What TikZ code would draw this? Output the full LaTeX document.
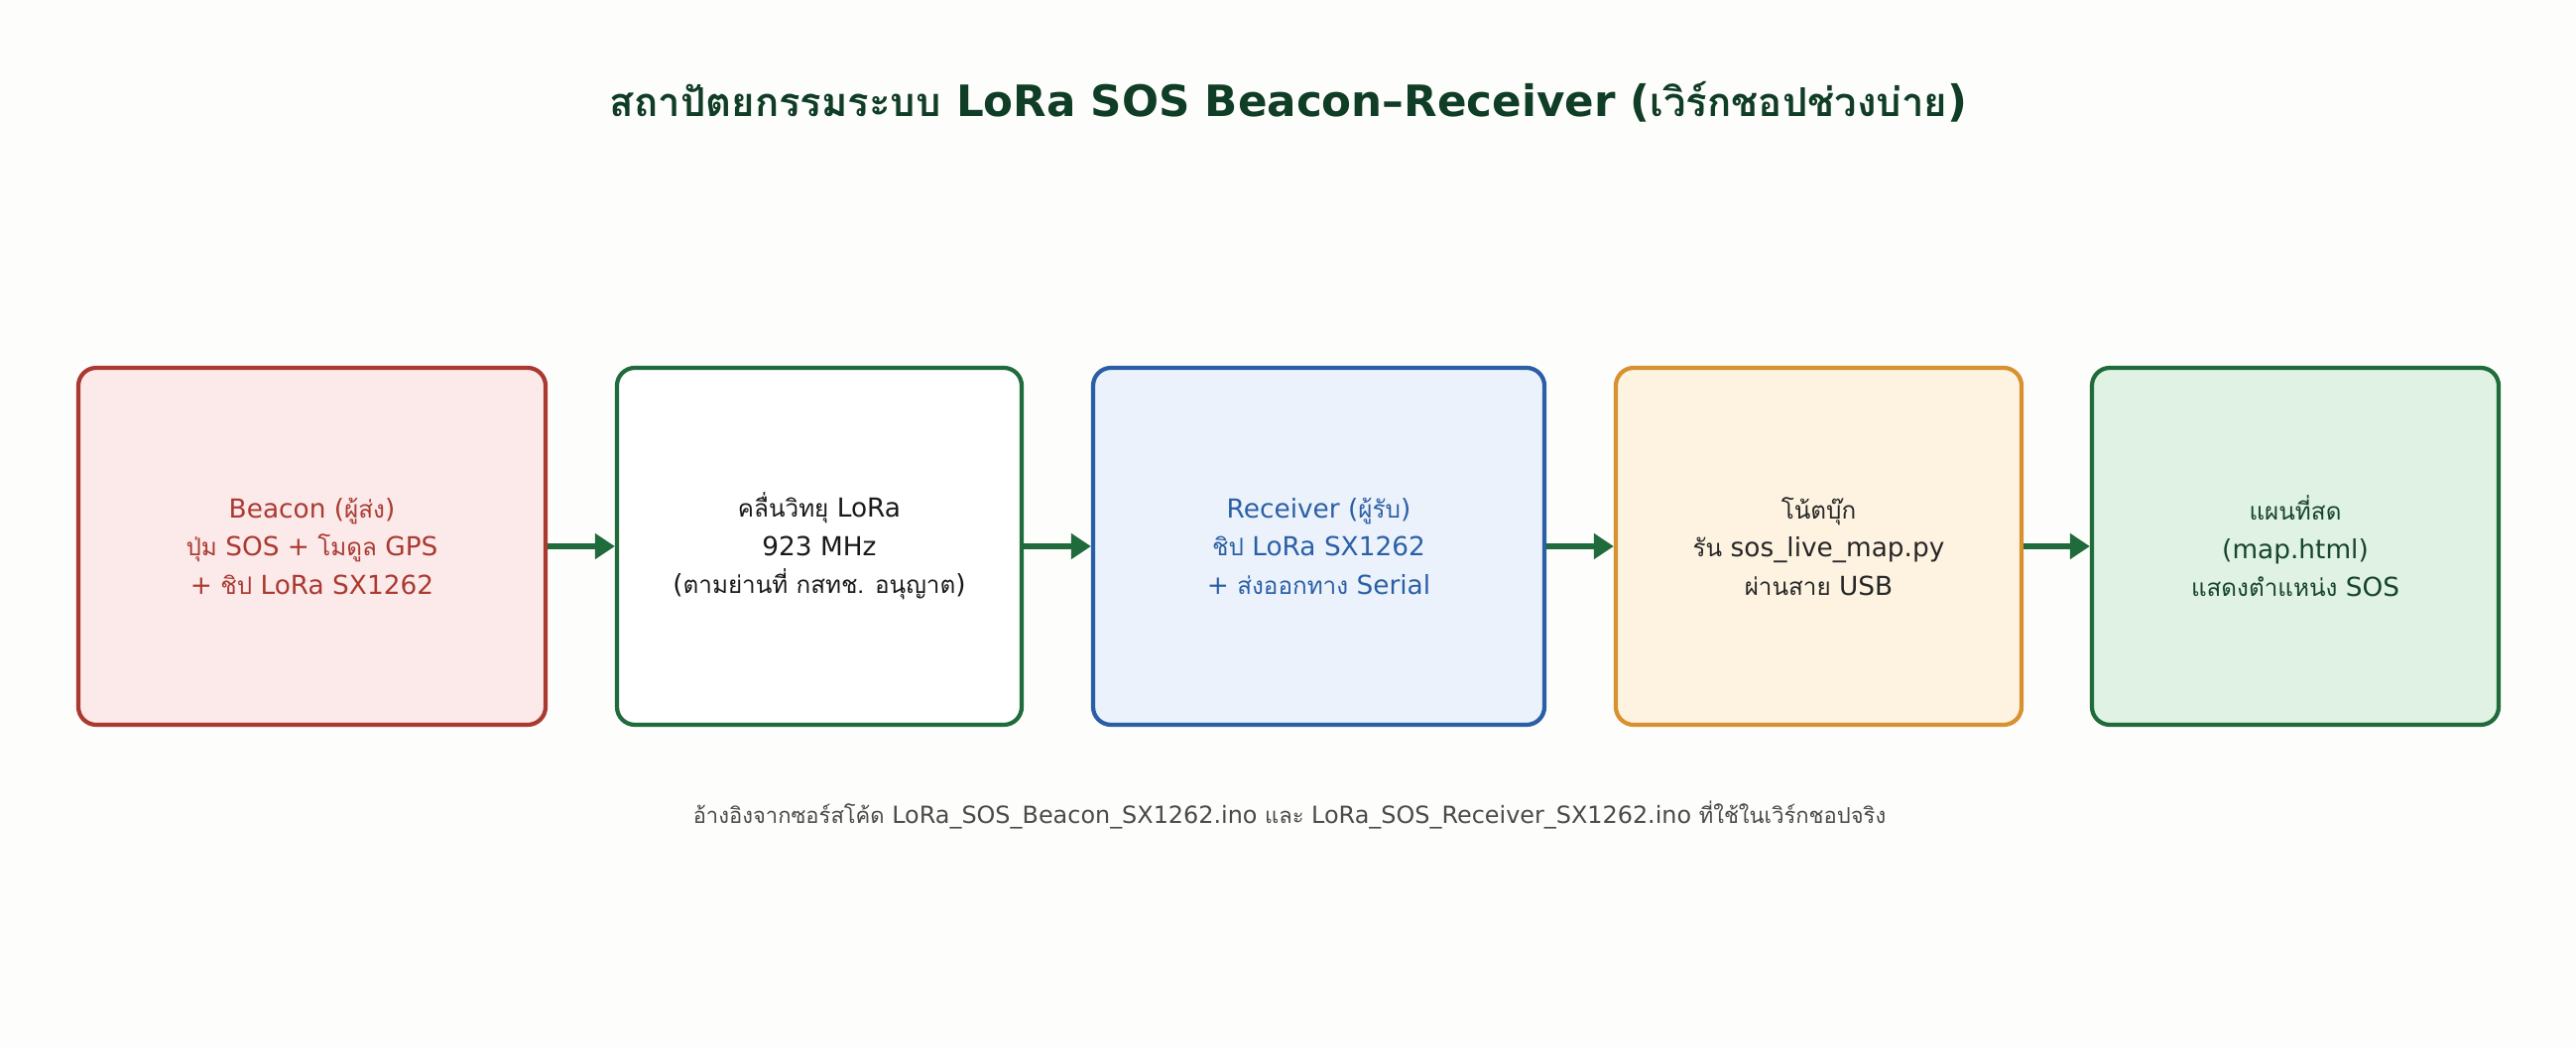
\documentclass[tikz,border=0pt]{standalone}
\usepackage{fontspec}
\usepackage{xcolor}
\setmainfont{DejaVu Sans}
\newfontfamily\thaifont[Script=Thai,Scale=0.92]{Loma}
\newcommand{\thai}[1]{{\thaifont #1}}
\usetikzlibrary{arrows.meta}
\definecolor{paper}{HTML}{FDFDFB}
\definecolor{titlegreen}{HTML}{103D26}
\definecolor{beaconred}{HTML}{AA3A31}
\definecolor{beaconfill}{HTML}{FCE9E9}
\definecolor{linkgreen}{HTML}{1F6B3B}
\definecolor{rxblue}{HTML}{2B5FA5}
\definecolor{rxfill}{HTML}{EBF2FC}
\definecolor{nborange}{HTML}{D8912F}
\definecolor{nbfill}{HTML}{FEF3E1}
\definecolor{mapfill}{HTML}{DFF2E3}
\definecolor{maptext}{HTML}{17442C}
\definecolor{notegray}{HTML}{4A4A48}

\begin{document}
\begin{tikzpicture}[
  box/.style={draw, line width=1.2pt, rounded corners=0.18cm, align=center,
    minimum height=3.6cm, font=\fontsize{7.5pt}{11pt}\selectfont},
  link/.style={-{Triangle[length=0.2cm,width=0.25cm]}, line width=1.9pt, linkgreen}
]
\useasboundingbox (0,0) rectangle (25.97,10.56);
\fill[paper] (0,0) rectangle (25.97,10.56);
\node[font=\fontsize{12.4pt}{14pt}\selectfont\bfseries, text=titlegreen] (title) at (12.99,9.53)
  {\thai{สถาปัตยกรรมระบบ} LoRa SOS Beacon–Receiver (\thai{เวิร์กชอปช่วงบ่าย})};
% boxes
\node[box, minimum width=4.71cm, fill=beaconfill, draw=beaconred, text=beaconred] (beacon) at (3.145,5.05)
  {Beacon (\thai{ผู้ส่ง})\\ \thai{ปุ่ม} SOS + \thai{โมดูล} GPS\\ + \thai{ชิป} LoRa SX1262};
\node[box, minimum width=4.08cm, fill=white, draw=linkgreen, text=black!90] (radio) at (8.26,5.05)
  {\thai{คลื่นวิทยุ} LoRa\\ 923 MHz\\ (\thai{ตามย่านที่ กสทช. อนุญาต})};
\node[box, minimum width=4.55cm, fill=rxfill, draw=rxblue, text=rxblue] (receiver) at (13.295,5.05)
  {Receiver (\thai{ผู้รับ})\\ \thai{ชิป} LoRa SX1262\\ + \thai{ส่งออกทาง} Serial};
\node[box, minimum width=4.09cm, fill=nbfill, draw=nborange, text=black!85] (laptop) at (18.335,5.05)
  {\thai{โน้ตบุ๊ก}\\ \thai{รัน} sos\_live\_map.py\\ \thai{ผ่านสาย} USB};
\node[box, minimum width=4.10cm, fill=mapfill, draw=linkgreen, text=maptext] (map) at (23.14,5.05)
  {\thai{แผนที่สด}\\ (map.html)\\ \thai{แสดงตำแหน่ง} SOS};
% arrows
\draw[link] (beacon) -- (radio);
\draw[link] (radio) -- (receiver);
\draw[link] (receiver) -- (laptop);
\draw[link] (laptop) -- (map);
\node[font=\fontsize{6.8pt}{9pt}\selectfont, text=notegray] (note) at (13.0,2.34)
  {\thai{อ้างอิงจากซอร์สโค้ด} LoRa\_SOS\_Beacon\_SX1262.ino \thai{และ} LoRa\_SOS\_Receiver\_SX1262.ino \thai{ที่ใช้ในเวิร์กชอปจริง}};
\end{tikzpicture}
\end{document}
